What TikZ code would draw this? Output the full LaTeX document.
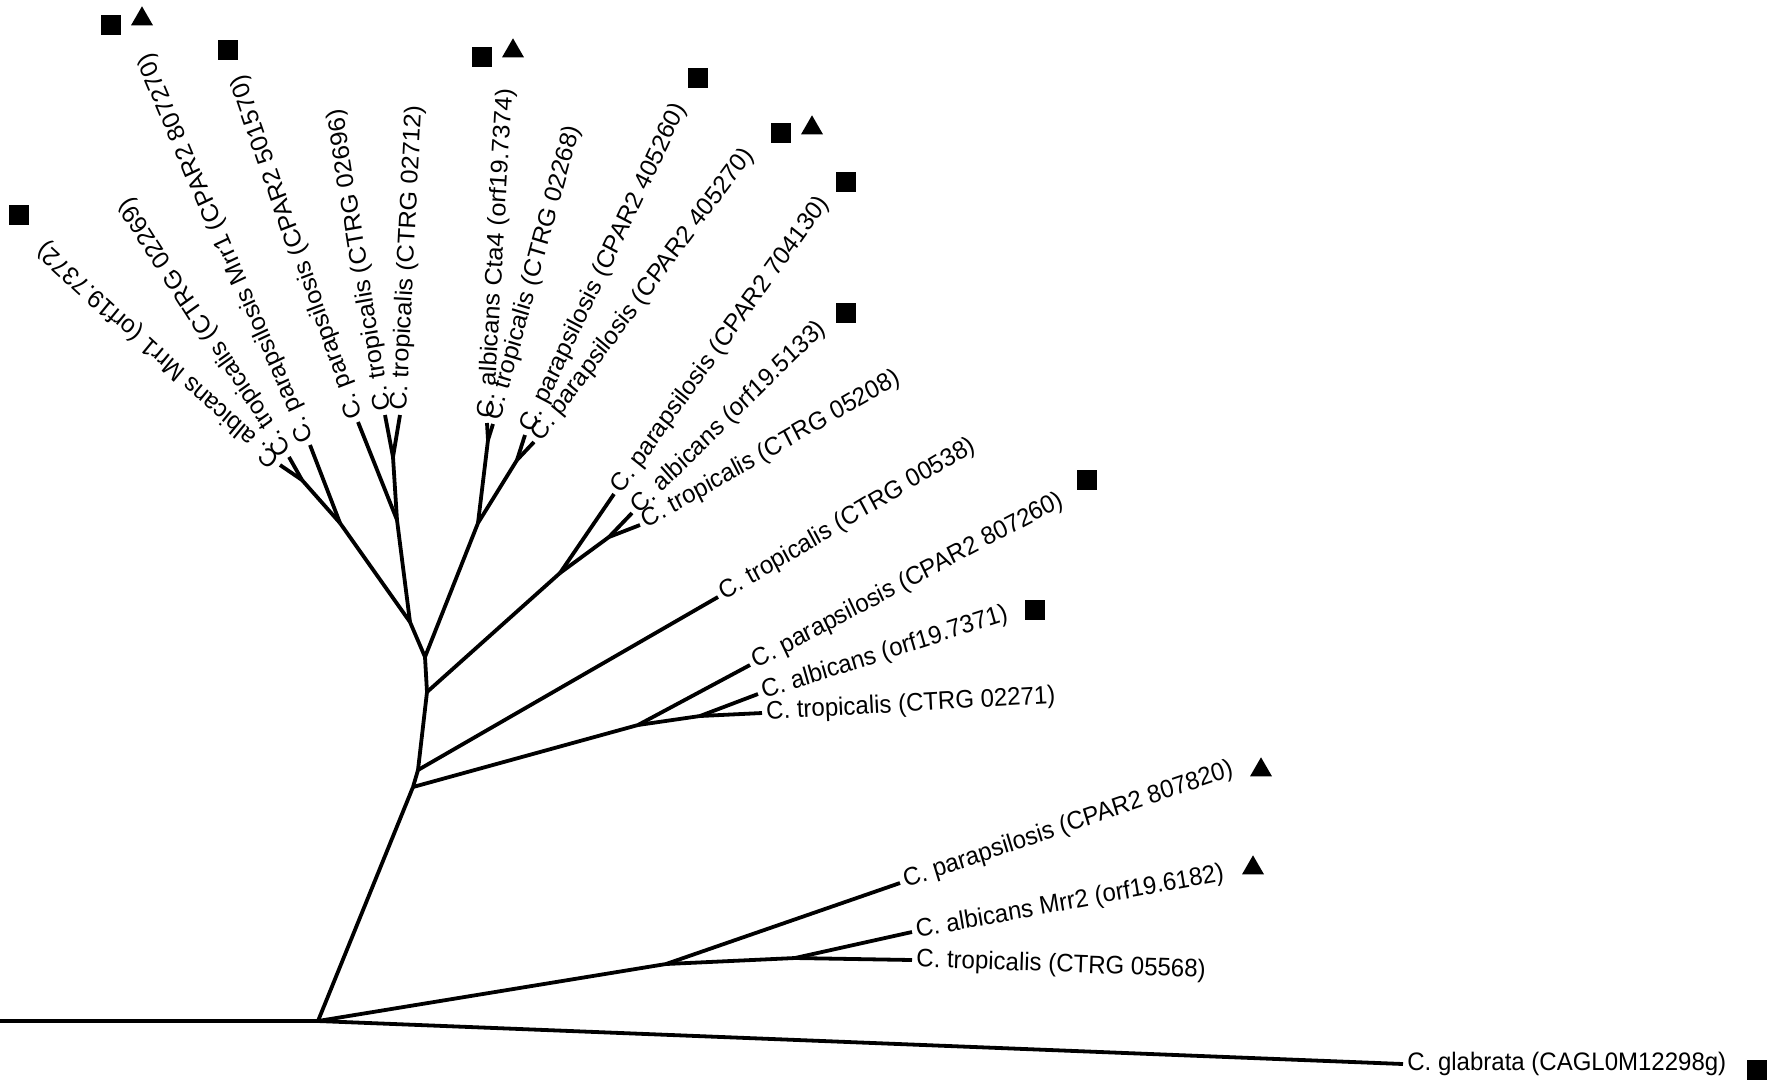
\documentclass[tikz,border=0pt]{standalone}
\usepackage{fontspec}
\setmainfont{Liberation Sans}
\usetikzlibrary{shapes.geometric}
\begin{document}
\begin{tikzpicture}[x=0.5pt,y=-0.5pt]
		\tikzstyle{edge}=[draw,line width=1.9pt,-,black]
		\tikzstyle{taxon}=[anchor=west,inner sep=2pt,yscale=1.055,font=\fontsize{12}{14}\selectfont]
		\tikzstyle{sq}=[fill=black,minimum size=10pt,inner sep=0pt]
		\tikzstyle{tri}=[regular polygon,regular polygon sides=3,fill=black,minimum size=12.7pt,inner sep=0pt]
		\useasboundingbox (0,0) rectangle (1772,1089);

		\coordinate (left) at (0,1021);
		\coordinate (r) at (318,1021);
		\coordinate (a) at (413,787);
		\coordinate (b) at (418,770);
		\coordinate (c) at (427,692);
		\coordinate (d) at (425,657);
		\coordinate (l0) at (410,622);
		\coordinate (l2) at (340,523);
		\coordinate (l3) at (302,480);
		\coordinate (l4) at (397,520);
		\coordinate (l5) at (393,457);
		\coordinate (r1) at (478,523);
		\coordinate (r1a) at (488,440);
		\coordinate (r2) at (517,460);
		\coordinate (m1) at (560,573);
		\coordinate (m2) at (609,537);
		\coordinate (n2) at (638,725);
		\coordinate (n3) at (700,716);
		\coordinate (nl) at (666,964);
		\coordinate (n4) at (795,958);

		\coordinate (t7372) at (280,465);
		\coordinate (t02269) at (289,457);
		\coordinate (t807270) at (310,445);
		\coordinate (t501570) at (358,422);
		\coordinate (t02696) at (385,415);
		\coordinate (t02712) at (400,415);
		\coordinate (t7374) at (487,423);
		\coordinate (t02268) at (493,424);
		\coordinate (t405260) at (525,435);
		\coordinate (t405270) at (534,442);
		\coordinate (t704130) at (614,494);
		\coordinate (t5133) at (632,513);
		\coordinate (t05208) at (640,525);
		\coordinate (t00538) at (718,597);
		\coordinate (t807260) at (750,665);
		\coordinate (t7371) at (758,694);
		\coordinate (t02271) at (762,713);
		\coordinate (t807820) at (900,883);
		\coordinate (tMrr2) at (912,932);
		\coordinate (t05568) at (912,960);
		\coordinate (tglab) at (1403,1064);

		\foreach \u/\v in {left/r, r/tglab, r/a, a/b, b/c, c/d,
			d/l0, l0/l2, l2/t807270, l2/l3, l3/t7372, l3/t02269,
			l0/l4, l4/t501570, l4/l5, l5/t02696, l5/t02712,
			d/r1, r1/r1a, r1a/t7374, r1a/t02268, r1/r2, r2/t405260, r2/t405270,
			c/m1, m1/t704130, m1/m2, m2/t5133, m2/t05208,
			b/t00538, a/n2, n2/t807260, n2/n3, n3/t7371, n3/t02271,
			r/nl, nl/t807820, nl/n4, n4/tMrr2, n4/t05568}
			\draw[edge] (\u) -- (\v);

		\node[taxon,rotate=139] (l7372) at (t7372) {C. albicans Mrr1 (orf19.7372)};
		\node[taxon,rotate=124] (l02269) at (t02269) {C. tropicalis (CTRG 02269)};
		\node[taxon,rotate=114] (l807270) at (t807270) {C. parapsilosis Mrr1 (CPAR2 807270)};
		\node[taxon,rotate=110] (l501570) at (t501570) {C. parapsilosis (CPAR2 501570)};
		\node[taxon,rotate=99.5] (l02696) at (t02696) {C. tropicalis (CTRG 02696)};
		\node[taxon,rotate=87] (l02712) at (t02712) {C. tropicalis (CTRG 02712)};
		\node[taxon,rotate=86.5] (l7374) at (t7374) {C. albicans Cta4 (orf19.7374)};
		\node[taxon,rotate=74] (l02268) at (t02268) {C. tropicalis (CTRG 02268)};
		\node[taxon,rotate=63.5] (l405260) at (t405260) {C. parapsilosis (CPAR2 405260)};
		\node[taxon,rotate=52] (l405270) at (t405270) {C. parapsilosis (CPAR2 405270)};
		\node[taxon,rotate=53] (l704130) at (t704130) {C. parapsilosis (CPAR2 704130)};
		\node[taxon,rotate=43] (l5133) at (t5133) {C. albicans (orf19.5133)};
		\node[taxon,rotate=28.5] (l05208) at (t05208) {C. tropicalis (CTRG 05208)};
		\node[taxon,rotate=29.5] (l00538) at (t00538) {C. tropicalis (CTRG 00538)};
		\node[taxon,rotate=26.7] (l807260) at (t807260) {C. parapsilosis (CPAR2 807260)};
		\node[taxon,rotate=17] (l7371) at (t7371) {C. albicans (orf19.7371)};
		\node[taxon,rotate=3] (l02271) at (t02271) {C. tropicalis (CTRG 02271)};
		\node[taxon,rotate=18] (l807820) at (t807820) {C. parapsilosis (CPAR2 807820)};
		\node[taxon,rotate=10] (lMrr2) at (tMrr2) {C. albicans Mrr2 (orf19.6182)};
		\node[taxon,rotate=-2] (l05568) at (t05568) {C. tropicalis (CTRG 05568)};
		\node[taxon] (lglab) at (tglab) {C. glabrata (CAGL0M12298g)};

		\node[sq] (s7372) at (19,215) {};
		\node[sq] (s807270) at (111,25) {};
		\node[tri] (g807270) at (142,19) {};
		\node[sq] (s501570) at (228,50) {};
		\node[sq] (s7374) at (482,57) {};
		\node[tri] (g7374) at (513,51) {};
		\node[sq] (s405260) at (698,78) {};
		\node[sq] (s405270) at (781,133) {};
		\node[tri] (g405270) at (812,128) {};
		\node[sq] (s704130) at (846,182) {};
		\node[sq] (s5133) at (846,313) {};
		\node[sq] (s807260) at (1087,480) {};
		\node[sq] (s7371) at (1035,610) {};
		\node[tri] (g807820) at (1261,770) {};
		\node[tri] (gMrr2) at (1253,868) {};
		\node[sq] (sglab) at (1757,1070) {};
\end{tikzpicture}
\end{document}
